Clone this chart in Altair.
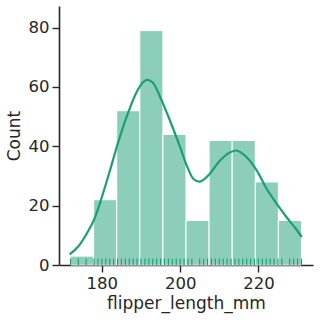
import altair as alt
import pandas as pd

# Histogram bins (flipper_length_mm) and counts
bin_start = [172.0, 177.9, 183.8, 189.7, 195.6, 201.5, 207.4, 213.3, 219.2, 225.1]
bin_end = [177.9, 183.8, 189.7, 195.6, 201.5, 207.4, 213.3, 219.2, 225.1, 231.0]
counts = [3, 22, 52, 79, 44, 15, 42, 42, 28, 15]

# KDE curve (in count units)
kde_x = [171.8, 174.0, 176.0, 178.2, 179.5, 182.1, 184.2, 186.7, 188.9, 190.5,
         191.6, 193.0, 195.3, 197.4, 200.0, 201.7, 203.4, 204.9, 207.2, 210.2,
         212.5, 214.3, 217.0, 219.6, 222.1, 224.7, 227.2, 229.5, 231.1]
kde_y = [3.6, 6.3, 10.3, 15.9, 20.8, 32.0, 41.5, 51.3, 58.3, 61.6,
         62.4, 61.5, 55.4, 48.7, 39.7, 33.5, 29.0, 28.1, 30.2, 35.2,
         37.8, 38.6, 36.3, 31.8, 25.7, 20.6, 16.1, 12.3, 9.4]

# Rug: observed flipper lengths
rug_vals = [172, 174, 176, 178, 179, 180, 181, 182, 183, 184, 185, 186, 187, 188,
            189, 190, 191, 192, 193, 194, 195, 196, 197, 198, 199, 200, 201, 202,
            203, 205, 206, 207, 208, 209, 210, 211, 212, 213, 214, 215, 216, 217,
            218, 219, 220, 221, 222, 223, 224, 225, 226, 228, 229, 230, 231]

hist_df = pd.DataFrame({"start": bin_start, "end": bin_end, "count": counts})
kde_df = pd.DataFrame({"x": kde_x, "y": kde_y})
rug_df = pd.DataFrame({"x": rug_vals})

W, H = 254, 259
GREEN = "#1b9e77"

xscale = alt.Scale(domain=[169.05, 233.95], nice=False, zero=False)
yscale = alt.Scale(domain=[0, 87.3], nice=False)

xaxis = alt.Axis(title="flipper_length_mm", values=[180, 200, 220], format="d",
                 grid=False)
yaxis = alt.Axis(title="Count", values=[0, 20, 40, 60, 80], grid=False)

bars = alt.Chart(hist_df).mark_rect(
    fill=GREEN, fillOpacity=0.5, stroke="white", strokeWidth=1
).encode(
    x=alt.X("start:Q", scale=xscale, axis=xaxis),
    x2="end:Q",
    y=alt.Y("count:Q", scale=yscale, axis=yaxis),
    y2=alt.datum(0),
)

kde = alt.Chart(kde_df).mark_line(
    color=GREEN, strokeWidth=2.2, interpolate="monotone"
).encode(
    x=alt.X("x:Q", scale=xscale),
    y=alt.Y("y:Q", scale=yscale),
)

rug = alt.Chart(rug_df).mark_rule(color=GREEN, strokeWidth=1.1).encode(
    x=alt.X("x:Q", scale=xscale),
    y=alt.value(H - 6.5),
    y2=alt.value(H),
)

chart = alt.layer(bars, kde, rug).properties(
    width=W, height=H,
    autosize=alt.AutoSizeParams(type="none"),
    padding={"left": 59, "top": 6, "right": 7, "bottom": 55},
    background="white",
).configure_view(stroke=None).configure_axis(
    domainColor="#262626", domainWidth=1.6,
    tickColor="#262626", tickWidth=1.4, tickSize=7,
    labelFont="DejaVu Sans", labelFontSize=16.5, labelColor="#262626",
    labelPadding=3,
    titleFont="DejaVu Sans", titleFontSize=17, titleFontWeight="normal",
    titleColor="#262626",
).configure_axisX(titlePadding=4).configure_axisY(titlePadding=5)

chart.save("out.html", embed_options={"renderer": "svg", "actions": False})
